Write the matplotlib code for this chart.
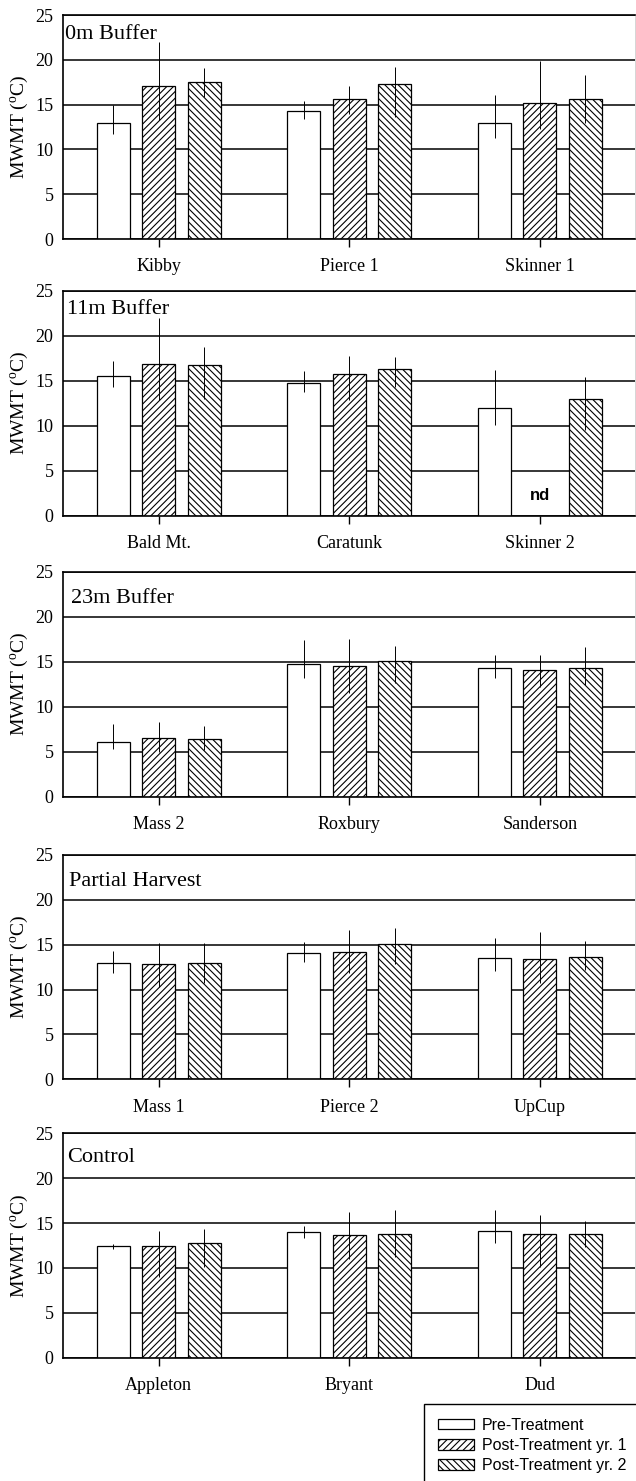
import numpy as np
import matplotlib
matplotlib.use("Agg")
import matplotlib.pyplot as plt
from matplotlib.patches import Patch

plt.rcParams['font.family'] = ['Liberation Serif', 'DejaVu Serif']
plt.rcParams['mathtext.fontset'] = 'custom'
plt.rcParams['mathtext.rm'] = 'Liberation Serif'
plt.rcParams['mathtext.it'] = 'Liberation Serif:italic'
plt.rcParams['hatch.linewidth'] = 0.8

series = ["Pre-Treatment", "Post-Treatment yr. 1", "Post-Treatment yr. 2"]
panel_titles = ["0m Buffer", "11m Buffer", "23m Buffer", "Partial Harvest", "Control"]

sites_0m = ["Kibby", "Pierce 1", "Skinner 1"]
mean_0m = [[13.0, 14.25, 13.0], [17.1, 15.6, 15.15], [17.5, 17.25, 15.6]]
up_0m = [[1.96, 1.15, 3.05], [4.9, 1.5, 4.7], [1.6, 1.95, 2.7]]
lo_0m = [[1.3, 0.85, 1.7], [3.8, 1.6, 2.9], [1.6, 3.6, 2.7]]

sites_11m = ["Bald Mt.", "Caratunk", "Skinner 2"]
mean_11m = [[15.55, 14.8, 11.95], [16.9, 15.8, np.nan], [16.8, 16.25, 12.95]]
up_11m = [[1.65, 1.3, 4.25], [5.1, 1.9, 0.0], [1.9, 1.35, 2.45]]
lo_11m = [[1.25, 1.1, 1.9], [4.0, 2.9, 0.0], [3.8, 1.95, 3.45]]

sites_23m = ["Mass 2", "Roxbury", "Sanderson"]
mean_23m = [[6.1, 14.7, 14.3], [6.5, 14.55, 14.1], [6.4, 15.1, 14.35]]
up_23m = [[1.95, 2.7, 1.4], [1.8, 2.95, 1.7], [1.5, 1.7, 2.25]]
lo_23m = [[0.8, 1.5, 1.1], [1.5, 3.0, 1.9], [1.2, 2.5, 1.95]]

sites_ph = ["Mass 1", "Pierce 2", "UpCup"]
mean_ph = [[12.95, 14.05, 13.55], [12.8, 14.2, 13.45], [12.95, 15.1, 13.65]]
up_ph = [[1.3, 1.3, 2.25], [2.4, 2.4, 3.0], [2.25, 1.8, 1.75]]
lo_ph = [[1.05, 0.95, 1.45], [2.5, 2.4, 2.75], [2.25, 2.2, 1.45]]

sites_ctl = ["Appleton", "Bryant", "Dud"]
mean_ctl = [[12.4, 13.95, 14.15], [12.5, 13.65, 13.8], [12.75, 13.8, 13.8]]
up_ctl = [[0.25, 0.7, 2.3], [1.6, 2.6, 2.1], [1.55, 2.65, 1.45]]
lo_ctl = [[0.25, 0.65, 1.4], [3.5, 2.6, 3.65], [2.65, 2.55, 1.45]]

panels = [
    (sites_0m, mean_0m, up_0m, lo_0m),
    (sites_11m, mean_11m, up_11m, lo_11m),
    (sites_23m, mean_23m, up_23m, lo_23m),
    (sites_ph, mean_ph, up_ph, lo_ph),
    (sites_ctl, mean_ctl, up_ctl, lo_ctl),
]

W, H = 636, 1481
fig = plt.figure(figsize=(W / 100, H / 100), dpi=100)

ax_left = 63.3
ax_right = 635.3
tops_px = [15, 290.7, 571.7, 855, 1133.3]
bots_px = [239, 515.7, 796.7, 1079.3, 1357.7]
title_y = [22.3, 22.4, 21.5, 21.5, 21.8]
title_x_px = [65, 67, 71, 69, 67]

hatches = [None, '/////', '\\\\\\\\\\']
offsets = [-0.238, 0.0, 0.238]
bw = 0.173
unit_px = (ax_right - ax_left) / 3.0

for i, (sites, means, ups, los) in enumerate(panels):
    ax = fig.add_axes([ax_left / W, 1 - bots_px[i] / H,
                       (ax_right - ax_left) / W, (bots_px[i] - tops_px[i]) / H])
    x = np.arange(len(sites))
    for s in range(3):
        ax.bar(x + offsets[s], means[s], width=bw, color='white', edgecolor='black',
               linewidth=0.9, hatch=hatches[s], zorder=2)
        m = np.array(means[s], dtype=float)
        ok = ~np.isnan(m)
        ax.errorbar((x + offsets[s])[ok], m[ok],
                    yerr=[np.array(los[s])[ok], np.array(ups[s])[ok]],
                    fmt='none', ecolor='black', elinewidth=0.7, capsize=0, zorder=3)
        for j in np.where(~ok)[0]:
            ax.text(x[j] + offsets[s], 2.3, "nd", ha='center', va='center',
                    fontsize=12, fontweight='bold',
                    family=['Liberation Sans', 'DejaVu Sans'], zorder=4)
    ax.set_ylim(0, 25)
    ax.set_xlim(-0.5, 2.5)
    ax.set_yticks([0, 5, 10, 15, 20, 25])
    ax.set_xticks(x)
    ax.set_xticklabels(sites, fontsize=13)
    ax.tick_params(axis='y', length=0, pad=7, labelsize=13)
    ax.tick_params(axis='x', length=6, width=1.0, direction='out', pad=8)
    ax.yaxis.grid(True, color='black', linewidth=1.1, zorder=0)
    ax.set_axisbelow(True)
    for sp in ['left', 'bottom', 'top']:
        ax.spines[sp].set_linewidth(1.2)
        ax.spines[sp].set_color('black')
    ax.spines['right'].set_linewidth(0.6)
    ax.spines['right'].set_color('#cfcfcf')
    ax.set_ylabel(r"MWMT ($^{\mathrm{o}}$C)", fontsize=14)
    ax.yaxis.set_label_coords(-0.058, 0.5)
    ax.text(-0.5 + (title_x_px[i] - ax_left) / unit_px, title_y[i], panel_titles[i],
            fontsize=16, ha='left', va='baseline', zorder=5)

handles = [Patch(facecolor='white', edgecolor='black', linewidth=0.9, hatch=h) for h in hatches]
leg = fig.legend(handles, series, loc='upper left',
                 bbox_to_anchor=(424 / W, 1 - 1404 / H),
                 prop={'family': 'Liberation Sans', 'size': 11.5},
                 frameon=True, fancybox=False, edgecolor='black', framealpha=1,
                 handlelength=2.3, handleheight=0.64, handletextpad=0.45,
                 labelspacing=0.33, borderpad=0.85, borderaxespad=0)
leg.get_frame().set_linewidth(1.0)

fig.savefig("out.png", dpi=100)
